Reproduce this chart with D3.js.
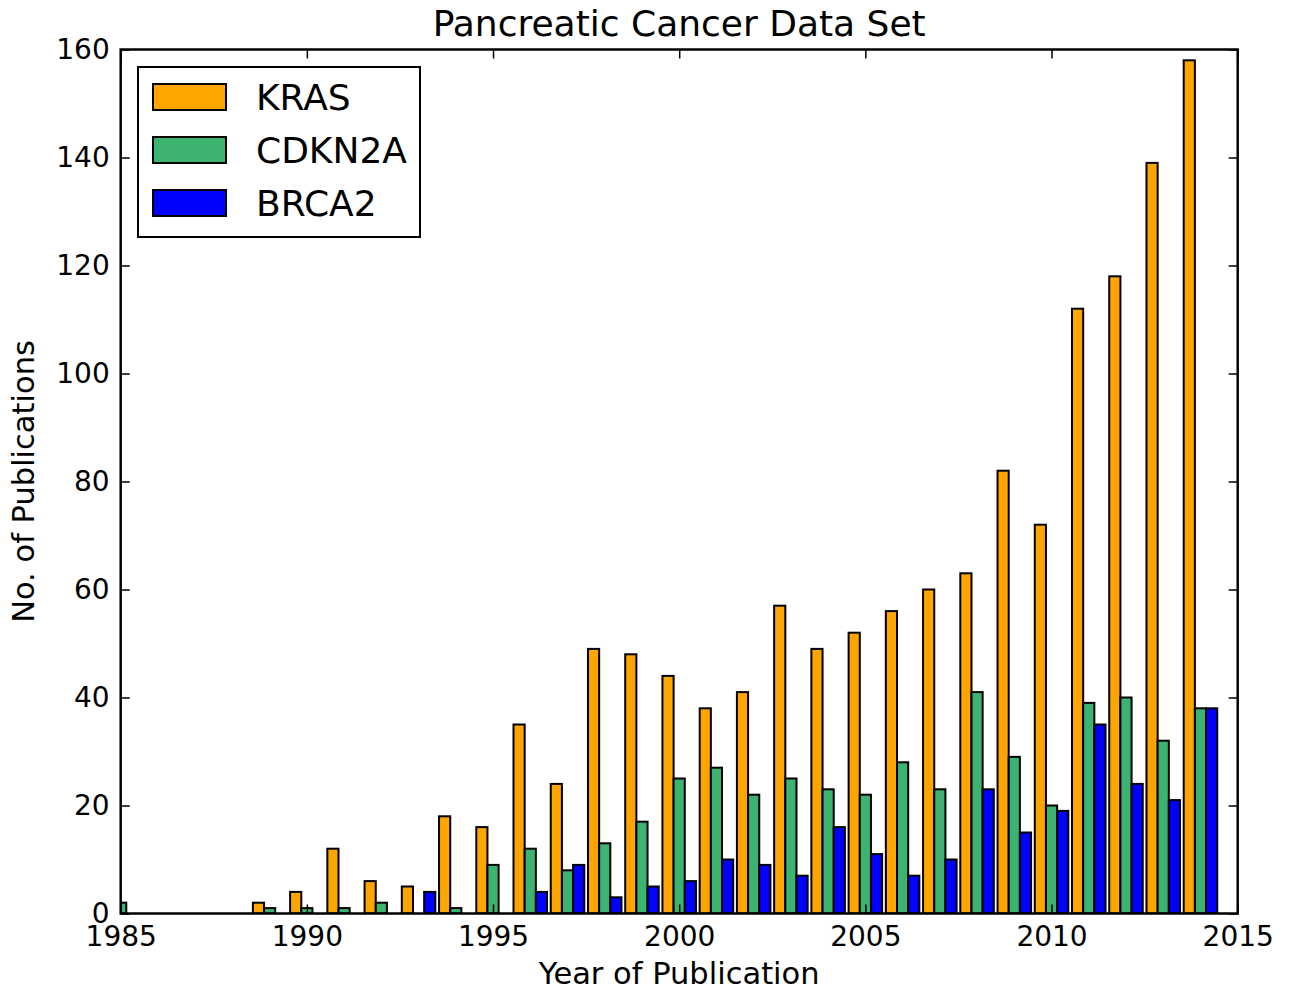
<!DOCTYPE html>
<html>
<head>
<meta charset="utf-8">
<script src="https://cdn.jsdelivr.net/npm/d3@7"></script>
<style>
  body { margin: 0; background: #fff; }
  svg { font-family: "DejaVu Sans", sans-serif; }
</style>
</head>
<body>
<script>
const years = d3.range(1985, 2015);
const kras = [0, 0, 0, 0, 2, 4, 12, 6, 5, 18, 16, 35, 24, 49, 48, 44, 38, 41, 57, 49, 52, 56, 60, 63, 82, 72, 112, 118, 139, 158];
const cdkn2a = [2, 0, 0, 0, 1, 1, 1, 2, 0, 1, 9, 12, 8, 13, 17, 25, 27, 22, 25, 23, 22, 28, 23, 41, 29, 20, 39, 40, 32, 38];
const brca2 = [0, 0, 0, 0, 0, 0, 0, 0, 4, 0, 0, 4, 9, 3, 5, 6, 10, 9, 7, 16, 11, 7, 10, 23, 15, 19, 35, 24, 21, 38];
const seriesNames = ['KRAS', 'CDKN2A', 'BRCA2'];
const seriesColors = ['#FFA500', '#3CB371', '#0000FF'];
const xTicks = [1985, 1990, 1995, 2000, 2005, 2010, 2015];
const yTicks = [0, 20, 40, 60, 80, 100, 120, 140, 160];

const width = 1290, height = 991;
const margin = { left: 120.7, right: 52.3, top: 49.5, bottom: 77.5 };
const barW = 0.3;

const x = d3.scaleLinear()
      .domain([1985, 2015])
      .range([margin.left, width - margin.right]);

const y = d3.scaleLinear()
      .domain([0, 160])
      .range([height - margin.bottom, margin.top]);

const svg = d3.select('body')
      .append('svg')
      .attr('width', width)
      .attr('height', height);

svg.append('clipPath').attr('id', 'plot')
    .append('rect')
    .attr('x', x(1985)).attr('y', y(160))
    .attr('width', x(2015) - x(1985)).attr('height', y(0) - y(160));

const allSeries = [kras, cdkn2a, brca2];

const bars = svg.append('g').attr('clip-path', 'url(#plot)');

allSeries.forEach((vals, k) => {
    const pts = years.map((yr, i) => ({ yr: yr, v: vals[i] })).filter(d => d.v > 0);
    bars.selectAll('rect.s' + k)
	.data(pts)
	.enter()
	.append('rect')
	.attr('class', 's' + k)
	.attr('x', d => x(d.yr + (k - 1.5) * barW))
	.attr('width', x(1985 + barW) - x(1985))
	.attr('y', d => y(d.v))
	.attr('height', d => y(0) - y(d.v))
	.attr('fill', seriesColors[k])
	.attr('stroke', '#000')
	.attr('stroke-width', 2);
});

// axes (ticks pointing inward, on all four sides)
const tickLen = 9;
const fs = 28;

const xAxisB = svg.append('g')
      .attr('transform', `translate(0, ${y(0)})`)
      .call(d3.axisBottom(x).tickValues(xTicks).tickFormat(d3.format('d'))
	    .tickSizeInner(-tickLen).tickSizeOuter(0).tickPadding(13));
const xAxisT = svg.append('g')
      .attr('transform', `translate(0, ${y(160)})`)
      .call(d3.axisTop(x).tickValues(xTicks).tickFormat('')
	    .tickSizeInner(-tickLen).tickSizeOuter(0));
const yAxisL = svg.append('g')
      .attr('transform', `translate(${x(1985)}, 0)`)
      .call(d3.axisLeft(y).tickValues(yTicks)
	    .tickSizeInner(-tickLen).tickSizeOuter(0).tickPadding(11));
const yAxisR = svg.append('g')
      .attr('transform', `translate(${x(2015)}, 0)`)
      .call(d3.axisRight(y).tickValues(yTicks).tickFormat('')
	    .tickSizeInner(-tickLen).tickSizeOuter(0));

[xAxisB, xAxisT, yAxisL, yAxisR].forEach(a => {
    a.select('.domain').remove();
    a.selectAll('line').attr('stroke', '#000').attr('stroke-width', 1.5);
    a.selectAll('text').attr('font-size', fs).attr('font-family', '"DejaVu Sans", sans-serif').attr('fill', '#000');
});
xAxisB.selectAll('text').attr('dy', '0.71em');

svg.append('rect')
    .attr('x', x(1985)).attr('y', y(160))
    .attr('width', x(2015) - x(1985)).attr('height', y(0) - y(160))
    .attr('fill', 'none').attr('stroke', '#000').attr('stroke-width', 2.5);

// titles
svg.append('text')
    .attr('x', (x(1985) + x(2015)) / 2).attr('y', 36)
    .attr('text-anchor', 'middle').attr('font-size', 36)
    .text('Pancreatic Cancer Data Set');

svg.append('text')
    .attr('x', (x(1985) + x(2015)) / 2).attr('y', 984)
    .attr('text-anchor', 'middle').attr('font-size', 30.5)
    .text('Year of Publication');

svg.append('text')
    .attr('transform', `translate(34, ${(y(0) + y(160)) / 2}) rotate(-90)`)
    .attr('text-anchor', 'middle').attr('font-size', 30.5)
    .text('No. of Publications');

// legend
const legend = svg.append('g').attr('transform', 'translate(138, 67)');
legend.append('rect')
    .attr('width', 282).attr('height', 170)
    .attr('fill', '#fff').attr('stroke', '#000').attr('stroke-width', 2);

const items = legend.selectAll('g.item')
      .data(seriesNames)
      .enter()
      .append('g')
      .attr('class', 'item')
      .attr('transform', (d, i) => `translate(0, ${30 + i * 53})`);
items.append('rect')
    .attr('x', 15).attr('y', -13).attr('width', 73).attr('height', 26)
    .attr('fill', (d, i) => seriesColors[i])
    .attr('stroke', '#000').attr('stroke-width', 2);
items.append('text')
    .attr('x', 118).attr('y', 13)
    .attr('font-size', 36)
    .text(d => d);
</script>
</body>
</html>
